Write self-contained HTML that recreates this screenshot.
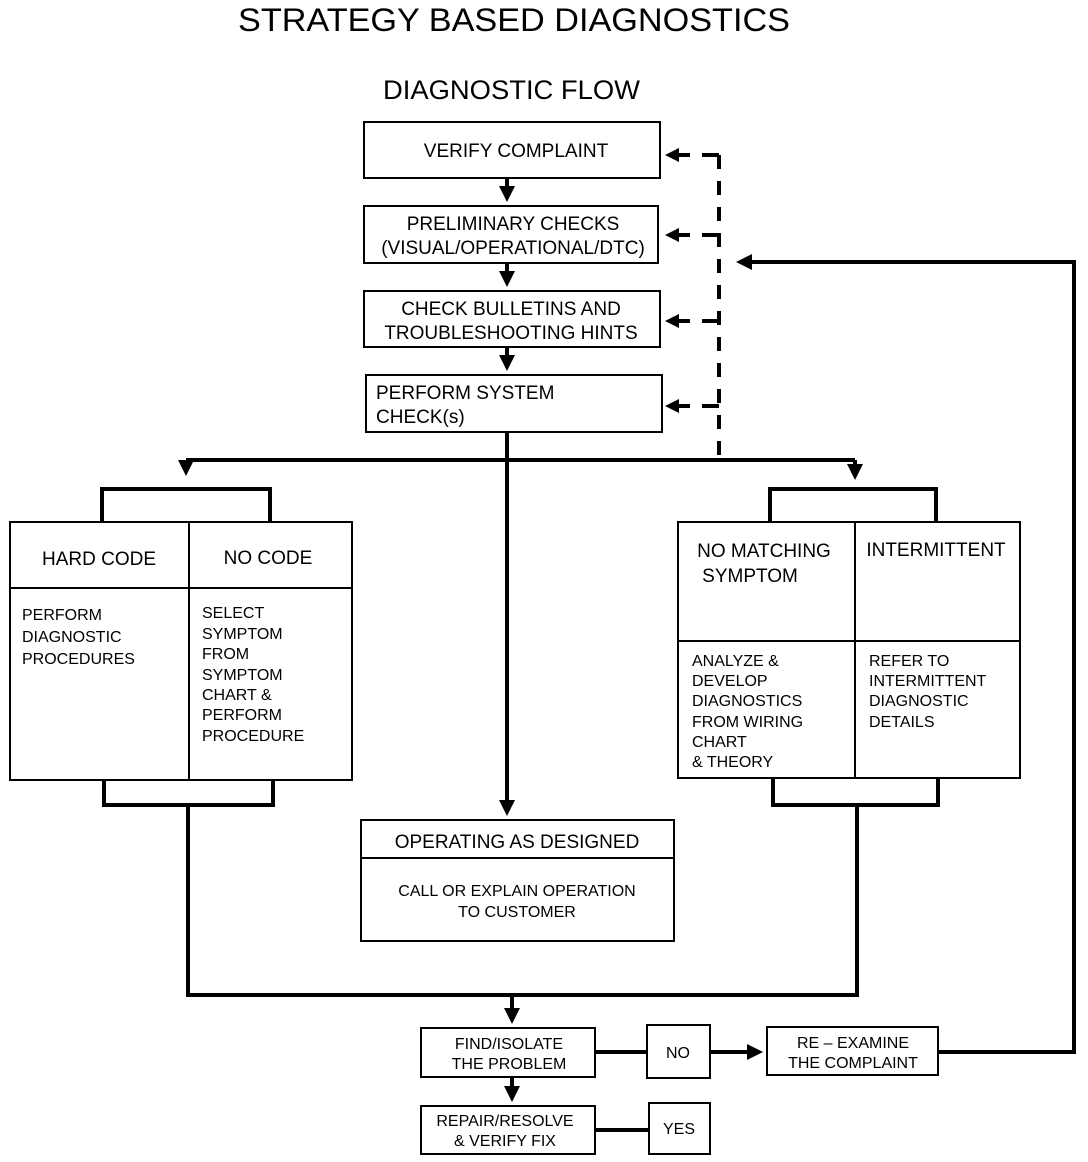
<!DOCTYPE html>
<html><head><style>body{margin:0;background:#fff}svg{display:block}text{font-family:"Liberation Sans",sans-serif;fill:#000}</style></head>
<body>
<svg width="1088" height="1162" viewBox="0 0 1088 1162" xmlns="http://www.w3.org/2000/svg">
<defs>
<marker id="a" markerWidth="4" markerHeight="4" refX="3" refY="2" orient="auto" markerUnits="strokeWidth"><path d="M0,0 L4,2 L0,4 z" fill="#000"/></marker>
</defs>
<text x="238" y="31" font-size="32" textLength="552" lengthAdjust="spacingAndGlyphs">STRATEGY BASED DIAGNOSTICS</text>
<text x="383" y="99" font-size="27" textLength="257" lengthAdjust="spacingAndGlyphs">DIAGNOSTIC FLOW</text>

<g fill="none" stroke="#000" stroke-width="2">
<rect x="364" y="122" width="296" height="56"/>
<rect x="364" y="206" width="294" height="57"/>
<rect x="364" y="291" width="296" height="56"/>
<rect x="366" y="375" width="296" height="57"/>
<rect x="10" y="522" width="342" height="258"/>
<line x1="10" y1="588" x2="352" y2="588"/><line x1="189" y1="522" x2="189" y2="780"/>
<rect x="678" y="522" width="342" height="256"/>
<line x1="678" y1="641" x2="1020" y2="641"/><line x1="855" y1="522" x2="855" y2="778"/>
<rect x="361" y="820" width="313" height="121"/>
<line x1="361" y1="858" x2="674" y2="858"/>
<rect x="421" y="1028" width="174" height="49"/>
<rect x="647" y="1025" width="63" height="53"/>
<rect x="767" y="1027" width="171" height="48"/>
<rect x="421" y="1106" width="174" height="48"/>
<rect x="649" y="1103" width="61" height="51"/>
</g>

<g fill="none" stroke="#000" stroke-width="4">
<line x1="507" y1="178" x2="507" y2="198" marker-end="url(#a)"/>
<line x1="507" y1="263" x2="507" y2="283" marker-end="url(#a)"/>
<line x1="507" y1="347" x2="507" y2="367" marker-end="url(#a)"/>
<line x1="507" y1="432" x2="507" y2="812" marker-end="url(#a)"/>
<line x1="186" y1="460" x2="855" y2="460"/>
<line x1="186" y1="460" x2="186" y2="472" marker-end="url(#a)"/>
<line x1="855" y1="460" x2="855" y2="476" marker-end="url(#a)"/>
<polyline points="102,522 102,489 270,489 270,522"/>
<polyline points="770,522 770,489 936,489 936,522"/>
<polyline points="104,780 104,805 273,805 273,780"/>
<polyline points="773,778 773,805 938,805 938,778"/>
<polyline points="188,805 188,995 857,995 857,805"/>
<line x1="512" y1="995" x2="512" y2="1020" marker-end="url(#a)"/>
<line x1="512" y1="1077" x2="512" y2="1098" marker-end="url(#a)"/>
<line x1="595" y1="1052" x2="647" y2="1052"/>
<line x1="710" y1="1052" x2="759" y2="1052" marker-end="url(#a)"/>
<polyline points="938,1052 1074,1052 1074,262 740,262" marker-end="url(#a)"/>
<line x1="595" y1="1130" x2="649" y2="1130"/>
</g>
<g fill="none" stroke="#000" stroke-width="4" stroke-dasharray="14,12">
<line x1="719" y1="155" x2="719" y2="460"/>
</g>
<g fill="none" stroke="#000" stroke-width="4">
<line x1="678" y1="155" x2="690" y2="155"/><line x1="702" y1="155" x2="719" y2="155"/>
<line x1="678" y1="235" x2="690" y2="235"/><line x1="702" y1="235" x2="719" y2="235"/>
<line x1="678" y1="321" x2="690" y2="321"/><line x1="702" y1="321" x2="719" y2="321"/>
<line x1="678" y1="406" x2="690" y2="406"/><line x1="702" y1="406" x2="719" y2="406"/>
</g>
<g fill="#000">
<path d="M665,155 l14,-7 v14z"/><path d="M665,235 l14,-7 v14z"/><path d="M665,321 l14,-7 v14z"/><path d="M665,406 l14,-7 v14z"/>
</g>

<g font-size="19" text-anchor="middle">
<text x="516" y="157">VERIFY COMPLAINT</text>
<text x="513" y="230">PRELIMINARY CHECKS</text>
<text x="513" y="254">(VISUAL/OPERATIONAL/DTC)</text>
<text x="511" y="315">CHECK BULLETINS AND</text>
<text x="511" y="339">TROUBLESHOOTING HINTS</text>
<text x="99" y="565">HARD CODE</text>
<text x="268" y="564">NO CODE</text>
<text x="764" y="557">NO MATCHING</text>
<text x="750" y="582">SYMPTOM</text>
<text x="936" y="556">INTERMITTENT</text>
<text x="517" y="848">OPERATING AS DESIGNED</text>
</g>
<g font-size="19">
<text x="376" y="399">PERFORM  SYSTEM</text>
<text x="376" y="423">CHECK(s)</text>
</g>
<g font-size="16">
<text x="22" y="620">PERFORM</text>
<text x="22" y="642">DIAGNOSTIC</text>
<text x="22" y="664">PROCEDURES</text>
<text x="202" y="618">SELECT</text>
<text x="202" y="639">SYMPTOM</text>
<text x="202" y="659">FROM</text>
<text x="202" y="680">SYMPTOM</text>
<text x="202" y="700">CHART &amp;</text>
<text x="202" y="720">PERFORM</text>
<text x="202" y="741">PROCEDURE</text>
<text x="692" y="666">ANALYZE &amp;</text>
<text x="692" y="686">DEVELOP</text>
<text x="692" y="706">DIAGNOSTICS</text>
<text x="692" y="727">FROM WIRING</text>
<text x="692" y="747">CHART</text>
<text x="692" y="767">&amp; THEORY</text>
<text x="869" y="666">REFER TO</text>
<text x="869" y="686">INTERMITTENT</text>
<text x="869" y="706">DIAGNOSTIC</text>
<text x="869" y="727">DETAILS</text>
</g>
<g font-size="16" text-anchor="middle">
<text x="517" y="896">CALL OR EXPLAIN OPERATION</text>
<text x="517" y="917">TO CUSTOMER</text>
<text x="509" y="1049">FIND/ISOLATE</text>
<text x="509" y="1069">THE PROBLEM</text>
<text x="678" y="1058">NO</text>
<text x="853" y="1048">RE – EXAMINE</text>
<text x="853" y="1068">THE COMPLAINT</text>
<text x="505" y="1126">REPAIR/RESOLVE</text>
<text x="505" y="1146">&amp; VERIFY FIX</text>
<text x="679" y="1134">YES</text>
</g>
</svg>
</body></html>
